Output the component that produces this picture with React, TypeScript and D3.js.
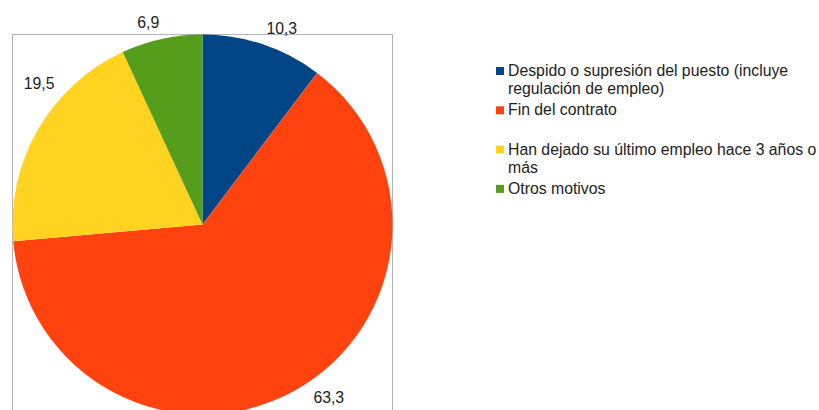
import React, { useEffect, useRef } from 'react';
import * as d3 from 'd3';

// categories / values (percent)
const categories = [
  'Despido o supresión del puesto (incluye regulación de empleo)',
  'Fin del contrato',
  'Han dejado su último empleo hace 3 años o más',
  'Otros motivos',
];
const values = [10.3, 63.3, 19.5, 6.9];
const valueLabels = ['10,3', '63,3', '19,5', '6,9'];
const colors = ['#004586', '#ff420e', '#ffd320', '#579d1c'];

const W = 819;
const H = 410;
const FONT = "'Liberation Sans', Arial, sans-serif";

const measure = (txt: string, size: number) => {
  const ctx = document.createElement('canvas').getContext('2d')!;
  ctx.font = `${size}px ${FONT}`;
  return ctx.measureText(txt).width;
};

const wrap = (txt: string, maxW: number, size: number) => {
  const words = txt.split(' ');
  const lines: string[] = [];
  let cur = '';
  words.forEach(w => {
    const test = cur ? cur + ' ' + w : w;
    if (measure(test, size) > maxW && cur) {
      lines.push(cur);
      cur = w;
    } else cur = test;
  });
  if (cur) lines.push(cur);
  return lines;
};

const App = () => {
  const ref = useRef<SVGSVGElement>(null);

  useEffect(() => {
    const svg = d3.select(ref.current);
    svg.selectAll('*').remove();

    const cx = 202.5, cy = 224.5, r = 190;
    const fs = 15.8;
    const capH = fs * 0.716;

    // frame around the plot area
    svg.append('rect')
      .attr('x', cx - r).attr('y', cy - r)
      .attr('width', 2 * r).attr('height', 2 * r)
      .attr('fill', 'none')
      .attr('stroke', '#b3b3b3')
      .attr('stroke-width', 1);

    const pie = d3.pie<number>().sort(null).value(d => d);
    const arcs = pie(values);
    const arc = d3.arc<d3.PieArcDatum<number>>().innerRadius(0).outerRadius(r);

    const g = svg.append('g').attr('transform', `translate(${cx},${cy})`);
    g.selectAll('path')
      .data(arcs)
      .enter().append('path')
      .attr('d', arc)
      .attr('fill', (d, i) => colors[i]);

    // value labels, placed outside along the mid angle, kept inside the page
    const labelR = r + 11;
    const bounds = { left: 23, bottom: 404 };
    arcs.forEach((a, i) => {
      const txt = valueLabels[i];
      const tw = measure(txt, fs);
      const place = (ang: number) => {
        const ax = cx + labelR * Math.sin(ang);
        const ay = cy - labelR * Math.cos(ang);
        const right = Math.sin(ang) >= 0;
        const upper = Math.cos(ang) >= 0;
        const x0 = right ? ax : ax - tw;
        const base = upper ? ay : ay + capH;
        return { x0, base };
      };
      let ang = (a.startAngle + a.endAngle) / 2;
      let p = place(ang);
      let n = 0;
      while ((p.x0 < bounds.left || p.base > bounds.bottom) && n < 400) {
        const deg = (ang * 180) / Math.PI;
        if (p.x0 < bounds.left) ang += (deg > 270 ? 1 : -1) * Math.PI / 360;
        else ang += (deg < 180 ? -1 : 1) * Math.PI / 360;
        p = place(ang);
        n++;
      }
      svg.append('text')
        .attr('x', p.x0)
        .attr('y', p.base)
        .attr('font-family', FONT)
        .attr('font-size', fs)
        .attr('fill', '#222')
        .text(txt);
    });

    // legend
    const lx = 496, tx = 508, lineH = 18, pitch = 39.3;
    const leg = svg.append('g');
    categories.forEach((c, i) => {
      const base = 76 + i * pitch;
      leg.append('rect')
        .attr('x', lx).attr('y', base - 9)
        .attr('width', 8).attr('height', 8)
        .attr('fill', colors[i]);
      const lines = wrap(c, W - tx - 1, fs);
      lines.forEach((ln, j) => {
        leg.append('text')
          .attr('x', tx)
          .attr('y', base + j * lineH)
          .attr('font-family', FONT)
          .attr('font-size', fs)
          .attr('fill', '#222')
          .text(ln);
      });
    });
  }, []);

  return (
    <svg
      ref={ref}
      width={W}
      height={H}
      style={{ position: 'absolute', left: 0, top: 0, background: '#fff' }}
    />
  );
};

export default App;
